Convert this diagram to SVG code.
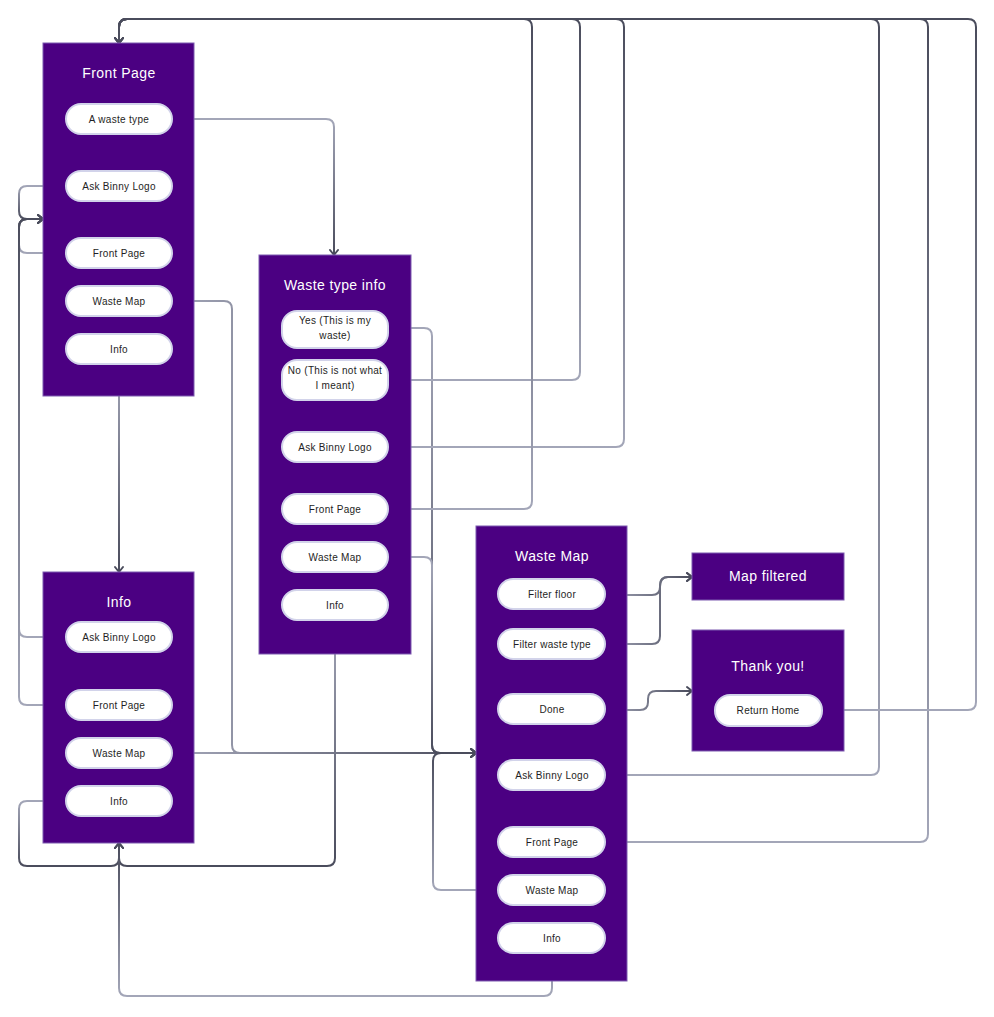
<svg xmlns="http://www.w3.org/2000/svg" width="994" height="1017" viewBox="0 0 994 1017">
<style>
.box{fill:#4b0082;stroke:#7d5aaf;stroke-width:1}
.pill{fill:#ffffff;stroke:#d2d3ea;stroke-width:2}
.title{font-family:"Liberation Sans",Arial,sans-serif;font-size:14px;fill:#ffffff;text-anchor:middle;letter-spacing:0.4px}
.lbl{font-family:"Liberation Sans",Arial,sans-serif;font-size:10px;fill:#1e1e24;text-anchor:middle;letter-spacing:0.3px}
.c{fill:none;stroke-width:2;marker-end:url(#arr)}
</style>
<defs>
<marker id="arr" markerWidth="12" markerHeight="12" refX="9" refY="6" orient="auto" markerUnits="userSpaceOnUse">
<path d="M4,2 L9,6 L4,10" fill="none" stroke="#4a4c5c" stroke-width="2" stroke-linejoin="round" stroke-linecap="round"/>
</marker>
<linearGradient id="g1" gradientUnits="userSpaceOnUse" x1="0" y1="119" x2="0" y2="255"><stop offset="0" stop-color="#a3a6b8"/><stop offset="1" stop-color="#4a4c5c"/></linearGradient>
<linearGradient id="g2" gradientUnits="userSpaceOnUse" x1="0" y1="186" x2="0" y2="219"><stop offset="0" stop-color="#a3a6b8"/><stop offset="1" stop-color="#4a4c5c"/></linearGradient>
<linearGradient id="g3" gradientUnits="userSpaceOnUse" x1="0" y1="253" x2="0" y2="219"><stop offset="0" stop-color="#a3a6b8"/><stop offset="1" stop-color="#4a4c5c"/></linearGradient>
<linearGradient id="g4" gradientUnits="userSpaceOnUse" x1="0" y1="637" x2="0" y2="219"><stop offset="0" stop-color="#a3a6b8"/><stop offset="1" stop-color="#4a4c5c"/></linearGradient>
<linearGradient id="g5" gradientUnits="userSpaceOnUse" x1="0" y1="705" x2="0" y2="219"><stop offset="0" stop-color="#a3a6b8"/><stop offset="1" stop-color="#4a4c5c"/></linearGradient>
<linearGradient id="g7" gradientUnits="userSpaceOnUse" x1="0" y1="364" x2="0" y2="572"><stop offset="0" stop-color="#a3a6b8"/><stop offset="1" stop-color="#4a4c5c"/></linearGradient>
<linearGradient id="g8" gradientUnits="userSpaceOnUse" x1="0" y1="801" x2="0" y2="866"><stop offset="0" stop-color="#a3a6b8"/><stop offset="1" stop-color="#4a4c5c"/></linearGradient>
<linearGradient id="g9" gradientUnits="userSpaceOnUse" x1="0" y1="620" x2="0" y2="866"><stop offset="0" stop-color="#a3a6b8"/><stop offset="1" stop-color="#4a4c5c"/></linearGradient>
<linearGradient id="g10" gradientUnits="userSpaceOnUse" x1="0" y1="996" x2="0" y2="843"><stop offset="0" stop-color="#a3a6b8"/><stop offset="1" stop-color="#4a4c5c"/></linearGradient>
<linearGradient id="g6" gradientUnits="userSpaceOnUse" x1="172" y1="0" x2="476" y2="0"><stop offset="0" stop-color="#a3a6b8"/><stop offset="1" stop-color="#4a4c5c"/></linearGradient>
<linearGradient id="g11" gradientUnits="userSpaceOnUse" x1="0" y1="328" x2="0" y2="753"><stop offset="0" stop-color="#a3a6b8"/><stop offset="1" stop-color="#4a4c5c"/></linearGradient>
<linearGradient id="g12" gradientUnits="userSpaceOnUse" x1="0" y1="557" x2="0" y2="753"><stop offset="0" stop-color="#a3a6b8"/><stop offset="1" stop-color="#4a4c5c"/></linearGradient>
<linearGradient id="g13" gradientUnits="userSpaceOnUse" x1="0" y1="890" x2="0" y2="753"><stop offset="0" stop-color="#a3a6b8"/><stop offset="1" stop-color="#4a4c5c"/></linearGradient>
<linearGradient id="g14" gradientUnits="userSpaceOnUse" x1="0" y1="380" x2="0" y2="19"><stop offset="0" stop-color="#a3a6b8"/><stop offset="1" stop-color="#4a4c5c"/></linearGradient>
<linearGradient id="g15" gradientUnits="userSpaceOnUse" x1="0" y1="447" x2="0" y2="19"><stop offset="0" stop-color="#a3a6b8"/><stop offset="1" stop-color="#4a4c5c"/></linearGradient>
<linearGradient id="g16" gradientUnits="userSpaceOnUse" x1="0" y1="509" x2="0" y2="19"><stop offset="0" stop-color="#a3a6b8"/><stop offset="1" stop-color="#4a4c5c"/></linearGradient>
<linearGradient id="g17" gradientUnits="userSpaceOnUse" x1="0" y1="775" x2="0" y2="19"><stop offset="0" stop-color="#a3a6b8"/><stop offset="1" stop-color="#4a4c5c"/></linearGradient>
<linearGradient id="g18" gradientUnits="userSpaceOnUse" x1="0" y1="842" x2="0" y2="19"><stop offset="0" stop-color="#a3a6b8"/><stop offset="1" stop-color="#4a4c5c"/></linearGradient>
<linearGradient id="g19" gradientUnits="userSpaceOnUse" x1="0" y1="710" x2="0" y2="19"><stop offset="0" stop-color="#a3a6b8"/><stop offset="1" stop-color="#4a4c5c"/></linearGradient>
<linearGradient id="g20" gradientUnits="userSpaceOnUse" x1="605" y1="0" x2="692" y2="0"><stop offset="0" stop-color="#a3a6b8"/><stop offset="1" stop-color="#4a4c5c"/></linearGradient>
</defs>
<rect width="994" height="1017" fill="#ffffff"/>

<g id="connectors">
<path class="c" stroke="url(#g1)" d="M172,119 H326 Q334,119 334,127 V255"/>
<path class="c" stroke="url(#g2)" d="M66,186 H27 Q19,186 19,194 V211 Q19,219 27,219 H43"/>
<path class="c" stroke="url(#g3)" d="M66,253 H27 Q19,253 19,245 V227 Q19,219 27,219 H43"/>
<path class="c" stroke="url(#g4)" d="M66,637 H27 Q19,637 19,629 V227 Q19,219 27,219 H43"/>
<path class="c" stroke="url(#g5)" d="M66,705 H27 Q19,705 19,697 V227 Q19,219 27,219 H43"/>
<path class="c" stroke="url(#g7)" d="M119,364 V572"/>
<path class="c" stroke="url(#g8)" d="M66,801 H27 Q19,801 19,809 V858 Q19,866 27,866 H111 Q119,866 119,858 V843"/>
<path class="c" stroke="url(#g9)" d="M335,620 V858 Q335,866 327,866 H127 Q119,866 119,858 V843"/>
<path class="c" stroke="url(#g10)" d="M552,953 V988 Q552,996 544,996 H127 Q119,996 119,988 V843"/>
<path class="c" stroke="url(#g6)" d="M172,301 H224 Q232,301 232,309 V745 Q232,753 240,753 H476"/>
<path class="c" stroke="url(#g6)" d="M172,753 H476"/>
<path class="c" stroke="url(#g11)" d="M388,328 H424 Q432,328 432,336 V745 Q432,753 440,753 H476"/>
<path class="c" stroke="url(#g12)" d="M388,557 H424 Q432,557 432,565 V745 Q432,753 440,753 H476"/>
<path class="c" stroke="url(#g13)" d="M498,890 H441 Q433,890 433,882 V761 Q433,753 441,753 H476"/>
<path class="c" stroke="url(#g14)" d="M388,380 H572 Q580,380 580,372 V27 Q580,19 572,19 H127 Q119,19 119,27 V43"/>
<path class="c" stroke="url(#g15)" d="M388,447 H616 Q624,447 624,439 V27 Q624,19 616,19 H127 Q119,19 119,27 V43"/>
<path class="c" stroke="url(#g16)" d="M388,509 H524 Q532,509 532,501 V27 Q532,19 524,19 H127 Q119,19 119,27 V43"/>
<path class="c" stroke="url(#g17)" d="M605,775 H871 Q879,775 879,767 V27 Q879,19 871,19 H127 Q119,19 119,27 V43"/>
<path class="c" stroke="url(#g18)" d="M605,842 H920 Q928,842 928,834 V27 Q928,19 920,19 H127 Q119,19 119,27 V43"/>
<path class="c" stroke="url(#g19)" d="M822,710 H968 Q976,710 976,702 V27 Q976,19 968,19 H127 Q119,19 119,27 V43"/>
<path class="c" stroke="url(#g20)" d="M605,595 H652 Q660,595 660,587 Q660,577 668,577 H692"/>
<path class="c" stroke="url(#g20)" d="M605,644 H652 Q660,644 660,636 V585 Q660,577 668,577 H692"/>
<path class="c" stroke="url(#g20)" d="M605,710 H640 Q648,710 648,702 V699 Q648,691 656,691 H692"/>
</g>

<g id="front-page">
<rect class="box" x="43" y="43" width="151" height="353"/>
<text class="title" x="119" y="78">Front Page</text>
<rect class="pill" x="66" y="104" width="106" height="30" rx="15"/><text class="lbl" x="119" y="122.5">A waste type</text>
<rect class="pill" x="66" y="171" width="106" height="30" rx="15"/><text class="lbl" x="119" y="189.5">Ask Binny Logo</text>
<rect class="pill" x="66" y="238" width="106" height="30" rx="15"/><text class="lbl" x="119" y="256.5">Front Page</text>
<rect class="pill" x="66" y="286" width="106" height="30" rx="15"/><text class="lbl" x="119" y="304.5">Waste Map</text>
<rect class="pill" x="66" y="334" width="106" height="30" rx="15"/><text class="lbl" x="119" y="352.5">Info</text>
</g>

<g id="waste-type-info">
<rect class="box" x="259" y="255" width="152" height="399"/>
<text class="title" x="335" y="290">Waste type info</text>
<rect class="pill" x="282" y="311" width="106" height="37" rx="15"/><text class="lbl" x="335" y="324">Yes (This is my</text><text class="lbl" x="335" y="339">waste)</text>
<rect class="pill" x="282" y="360" width="106" height="40" rx="15"/><text class="lbl" x="335" y="374">No (This is not what</text><text class="lbl" x="335" y="389">I meant)</text>
<rect class="pill" x="282" y="432" width="106" height="30" rx="15"/><text class="lbl" x="335" y="450.5">Ask Binny Logo</text>
<rect class="pill" x="282" y="494" width="106" height="30" rx="15"/><text class="lbl" x="335" y="512.5">Front Page</text>
<rect class="pill" x="282" y="542" width="106" height="30" rx="15"/><text class="lbl" x="335" y="560.5">Waste Map</text>
<rect class="pill" x="282" y="590" width="106" height="30" rx="15"/><text class="lbl" x="335" y="608.5">Info</text>
</g>

<g id="info">
<rect class="box" x="43" y="572" width="151" height="271"/>
<text class="title" x="119" y="607">Info</text>
<rect class="pill" x="66" y="622" width="106" height="30" rx="15"/><text class="lbl" x="119" y="640.5">Ask Binny Logo</text>
<rect class="pill" x="66" y="690" width="106" height="30" rx="15"/><text class="lbl" x="119" y="708.5">Front Page</text>
<rect class="pill" x="66" y="738" width="106" height="30" rx="15"/><text class="lbl" x="119" y="756.5">Waste Map</text>
<rect class="pill" x="66" y="786" width="106" height="30" rx="15"/><text class="lbl" x="119" y="804.5">Info</text>
</g>

<g id="waste-map">
<rect class="box" x="476" y="526" width="151" height="455"/>
<text class="title" x="552" y="561">Waste Map</text>
<rect class="pill" x="498" y="579" width="107" height="30" rx="15"/><text class="lbl" x="552" y="597.5">Filter floor</text>
<rect class="pill" x="498" y="629" width="107" height="30" rx="15"/><text class="lbl" x="552" y="647.5">Filter waste type</text>
<rect class="pill" x="498" y="694" width="107" height="30" rx="15"/><text class="lbl" x="552" y="712.5">Done</text>
<rect class="pill" x="498" y="760" width="107" height="30" rx="15"/><text class="lbl" x="552" y="778.5">Ask Binny Logo</text>
<rect class="pill" x="498" y="827" width="107" height="30" rx="15"/><text class="lbl" x="552" y="845.5">Front Page</text>
<rect class="pill" x="498" y="875" width="107" height="30" rx="15"/><text class="lbl" x="552" y="893.5">Waste Map</text>
<rect class="pill" x="498" y="923" width="107" height="30" rx="15"/><text class="lbl" x="552" y="941.5">Info</text>
</g>

<g id="map-filtered">
<rect class="box" x="692" y="553" width="152" height="47"/>
<text class="title" x="768" y="581">Map filtered</text>
</g>

<g id="thank-you">
<rect class="box" x="692" y="630" width="152" height="121"/>
<text class="title" x="768" y="671">Thank you!</text>
<rect class="pill" x="715" y="695" width="107" height="31" rx="15"/><text class="lbl" x="768" y="713.5">Return Home</text>
</g>
</svg>
